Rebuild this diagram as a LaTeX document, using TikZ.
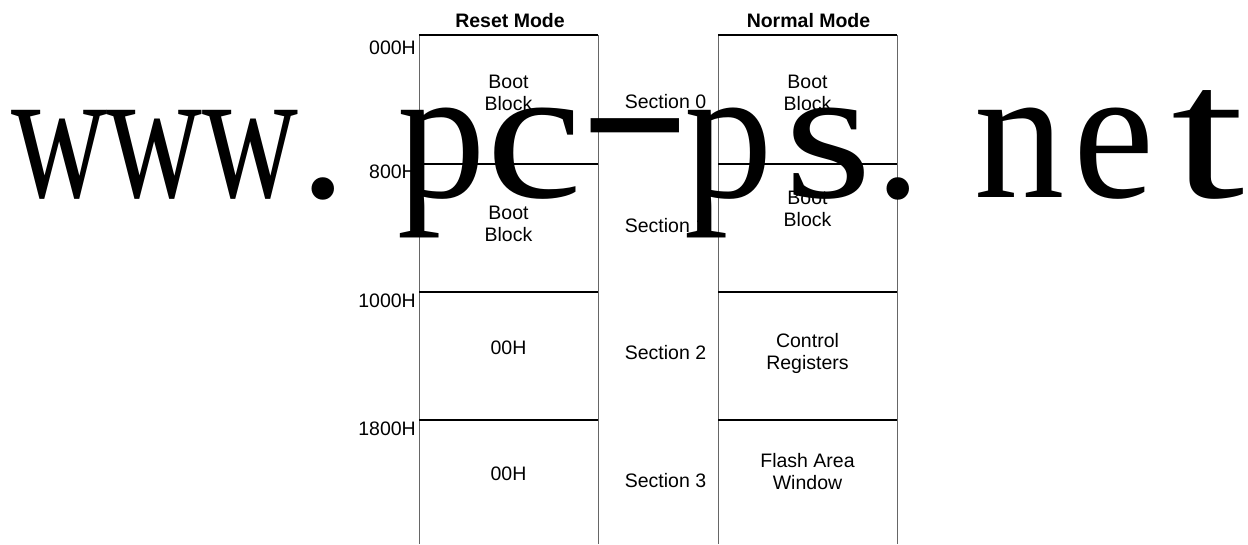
\documentclass[tikz,border=0pt]{standalone}
\usepackage{fontspec}
\setmainfont{Liberation Sans}
\newfontfamily\wmfont{Liberation Serif}
\newcommand\wmc[2]{\makebox[0pt][c]{\scalebox{#1}[1]{#2}}}
\begin{document}
\begin{tikzpicture}[x=1pt,y=-1pt,
  lbl/.style={font=\fontsize{19.5}{22}\selectfont, inner sep=0pt, align=center},
  hdr/.style={font=\fontsize{19.5}{22}\selectfont\bfseries, inner sep=0pt},
  vline/.style={line width=1pt, draw=black!60},
  hline/.style={line width=1.3pt, draw=black}]
\useasboundingbox (0,0) rectangle (1248,544);
% columns
\foreach \xl/\xr in {419/598, 718/897}{
  \draw[vline] (\xl,35) -- (\xl,544);
  \draw[vline] (\xr,35) -- (\xr,544);
  \foreach \yy in {35,164,292,420}{
    \draw[hline] (\xl,\yy) -- (\xr,\yy);
  }
}
% headers
\node[hdr] (hreset) at (510,21) {Reset Mode};
\node[hdr] (hnormal) at (808.5,21) {Normal Mode};
% addresses
\node[lbl, anchor=east] (a0) at (416,48) {000H};
\node[lbl, anchor=east] (a1) at (416,172) {800H};
\node[lbl, anchor=east] (a2) at (416,301) {1000H};
\node[lbl, anchor=east] (a3) at (416,429) {1800H};
% left column contents
\node[lbl] (l0) at (508.5,93) {Boot\\Block};
\node[lbl] (l1) at (508.5,224) {Boot\\Block};
\node[lbl] (l2) at (508.5,348) {00H};
\node[lbl] (l3) at (508.5,474) {00H};
% sections
\node[lbl] (s0) at (665.5,101.5) {Section 0};
\node[lbl] (s1) at (665.5,225.5) {Section 1};
\node[lbl] (s2) at (665.5,352.5) {Section 2};
\node[lbl] (s3) at (665.5,481) {Section 3};
% right column contents
\node[lbl] (r0) at (807.5,93) {Boot\\Block};
\node[lbl] (r1) at (807.5,209) {Boot\\Block};
\node[lbl] (r2) at (807.5,353) {Control\\Registers};
\node[lbl] (r3) at (807.5,472) {Flash Area\\Window};
% watermark
\node[inner sep=0pt, anchor=base west, font=\wmfont\fontsize{190}{190}\selectfont] (wm) at (0,197)
 {\kern59pt\wmc{0.70}{w}\kern95.5pt\wmc{0.70}{w}\kern96pt\wmc{0.70}{w}\kern72.5pt\wmc{1}{.}%
  \kern118pt\wmc{0.93}{p}\kern93pt\wmc{1.14}{c}\kern101pt\wmc{1.79}{\raisebox{27pt}{-}}%
  \kern93.5pt\wmc{0.93}{p}\kern100pt\wmc{1.19}{s}\kern69.5pt\wmc{1}{.}%
  \kern121.5pt\wmc{0.95}{n}\kern94pt\wmc{0.96}{e}\kern94.5pt\wmc{1.39}{t}\kern40pt};
\end{tikzpicture}
\end{document}
